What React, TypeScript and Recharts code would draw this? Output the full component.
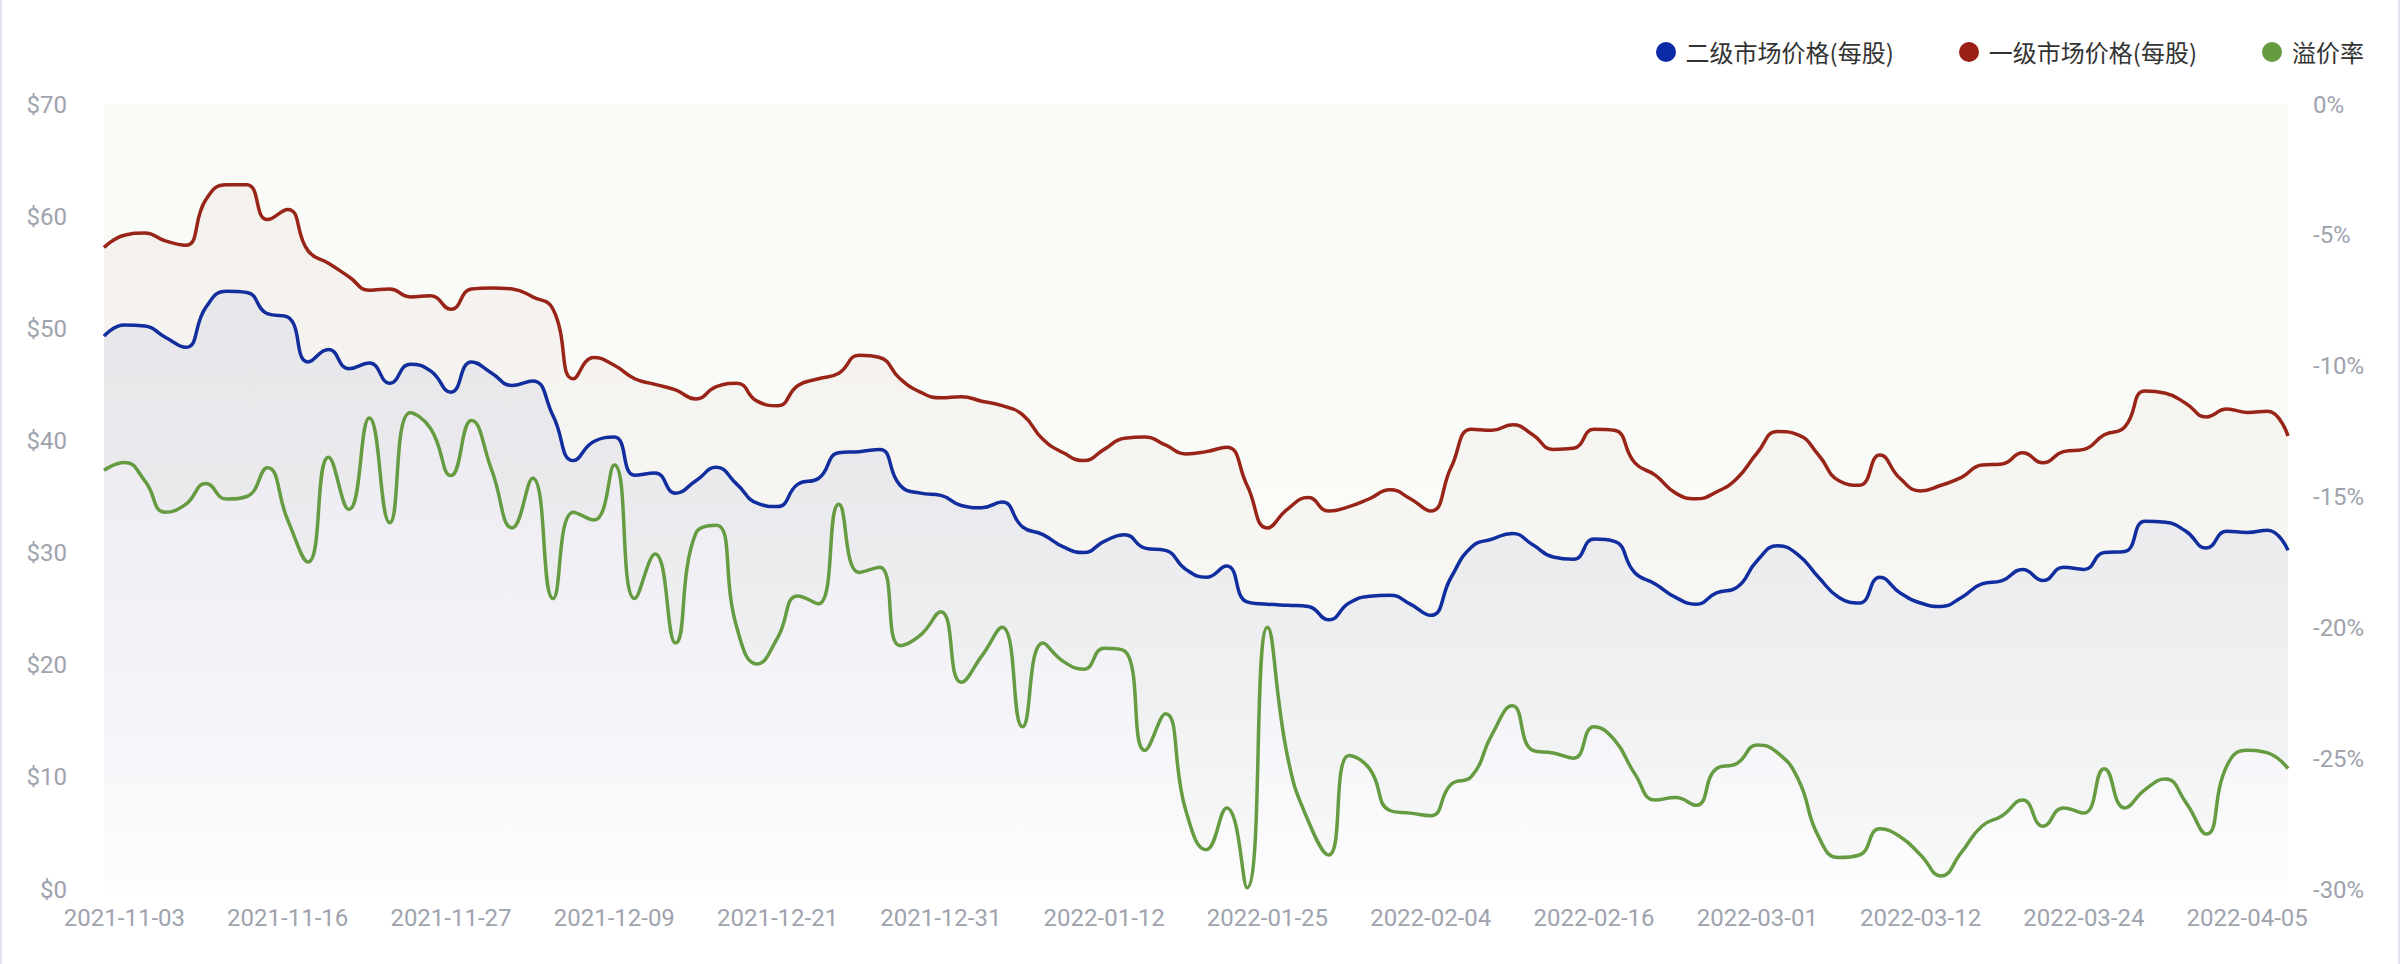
import { AreaChart, Area, XAxis, YAxis } from "recharts";

const dates = [
  "2021-11-02", "2021-11-03", "2021-11-04", "2021-11-05", "2021-11-08", "2021-11-09", "2021-11-10", "2021-11-12", "2021-11-15",
  "2021-11-16", "2021-11-17", "2021-11-18", "2021-11-19", "2021-11-20", "2021-11-22", "2021-11-23", "2021-11-24", "2021-11-27",
  "2021-11-29", "2021-11-30", "2021-12-01", "2021-12-02", "2021-12-03", "2021-12-06", "2021-12-07", "2021-12-09", "2021-12-10",
  "2021-12-11", "2021-12-13", "2021-12-14", "2021-12-15", "2021-12-17", "2021-12-20", "2021-12-21", "2021-12-22", "2021-12-23",
  "2021-12-24", "2021-12-25", "2021-12-27", "2021-12-28", "2021-12-29", "2021-12-31", "2022-01-01", "2022-01-03", "2022-01-04",
  "2022-01-05", "2022-01-06", "2022-01-07", "2022-01-10", "2022-01-12", "2022-01-13", "2022-01-14", "2022-01-17", "2022-01-18",
  "2022-01-19", "2022-01-20", "2022-01-21", "2022-01-25", "2022-01-26", "2022-01-27", "2022-01-28", "2022-01-29", "2022-01-31",
  "2022-02-01", "2022-02-02", "2022-02-04", "2022-02-05", "2022-02-07", "2022-02-08", "2022-02-09", "2022-02-10", "2022-02-11",
  "2022-02-14", "2022-02-16", "2022-02-17", "2022-02-18", "2022-02-21", "2022-02-22", "2022-02-23", "2022-02-24", "2022-02-25",
  "2022-03-01", "2022-03-02", "2022-03-03", "2022-03-04", "2022-03-07", "2022-03-08", "2022-03-09", "2022-03-10", "2022-03-12",
  "2022-03-14", "2022-03-15", "2022-03-16", "2022-03-17", "2022-03-18", "2022-03-21", "2022-03-22", "2022-03-24", "2022-03-25",
  "2022-03-28", "2022-03-29", "2022-03-30", "2022-03-31", "2022-04-01", "2022-04-04", "2022-04-05", "2022-04-06", "2022-04-07",
];

// 二级市场价格(每股), USD
const secondaryPrice = [
  49.3, 50.3, 50.2, 49.2, 48.3, 51.9, 53.3, 53.2, 51.3,
  51.0, 47.0, 48.1, 46.4, 46.9, 45.1, 46.8, 46.2, 44.3,
  47.0, 46.0, 44.9, 45.3, 42.2, 38.2, 39.9, 40.3, 36.9,
  37.1, 35.3, 36.4, 37.6, 36.1, 34.4, 34.1, 36.1, 36.6,
  38.9, 39.0, 39.2, 36.0, 35.3, 35.1, 34.2, 34.0, 34.5,
  32.3, 31.6, 30.5, 30.0, 31.0, 31.6, 30.4, 30.2, 28.5,
  27.8, 28.8, 25.6, 25.4, 25.3, 25.2, 24.0, 25.5, 26.1,
  26.2, 25.4, 24.4, 27.8, 30.5, 31.2, 31.7, 30.7, 29.6,
  29.4, 31.2, 31.0, 28.2, 27.2, 26.0, 25.4, 26.4, 26.9,
  29.3, 30.6, 29.8, 27.8, 26.0, 25.5, 27.8, 26.4, 25.5,
  25.2, 26.0, 27.2, 27.5, 28.5, 27.5, 28.7, 28.5, 30.0,
  30.1, 32.8, 32.7, 31.9, 30.4, 31.9, 31.8, 32.0, 30.2,
];

// 一级市场价格(每股), USD
const primaryPrice = [
  57.2, 58.3, 58.5, 57.8, 57.4, 61.5, 62.8, 62.8, 59.7,
  60.6, 56.9, 55.8, 54.6, 53.4, 53.5, 52.8, 52.9, 51.7,
  53.5, 53.6, 53.5, 52.8, 51.7, 45.5, 47.4, 46.7, 45.5,
  45.0, 44.5, 43.7, 44.8, 45.1, 43.5, 43.1, 44.9, 45.5,
  46.0, 47.6, 47.4, 45.5, 44.3, 43.8, 43.9, 43.5, 43.1,
  42.3, 40.1, 38.9, 38.2, 39.2, 40.2, 40.3, 39.6, 38.8,
  39.0, 39.4, 36.0, 32.2, 33.9, 34.9, 33.7, 34.1, 34.8,
  35.6, 34.8, 33.7, 37.6, 41.0, 40.9, 41.4, 40.5, 39.2,
  39.3, 41.0, 40.9, 38.0, 36.9, 35.3, 34.8, 35.4, 36.6,
  38.9, 40.8, 40.5, 38.7, 36.4, 36.0, 38.7, 36.6, 35.5,
  36.0, 36.7, 37.8, 37.9, 38.9, 38.0, 39.0, 39.2, 40.5,
  41.2, 44.4, 44.2, 43.3, 42.1, 42.8, 42.5, 42.6, 40.4,
];

// 溢价率, %
const premiumRate = [
  -14.0, -13.7, -14.4, -15.6, -15.3, -14.5, -15.1, -15.0, -13.9,
  -15.9, -17.5, -13.5, -15.5, -12.0, -16.0, -11.8, -12.4, -14.2,
  -12.1, -14.0, -16.2, -14.3, -18.9, -15.6, -15.9, -13.8, -18.9,
  -17.2, -20.6, -16.4, -16.1, -20.0, -21.4, -20.4, -18.8, -19.1,
  -15.3, -17.9, -17.7, -20.7, -20.3, -19.4, -22.1, -21.1, -20.0,
  -23.8, -20.6, -21.3, -21.6, -20.8, -20.9, -24.7, -23.3, -27.0,
  -28.5, -26.9, -29.95, -20.0, -25.0, -27.4, -28.7, -24.9, -25.4,
  -27.0, -27.1, -27.2, -26.0, -25.7, -24.1, -23.0, -24.7, -24.8,
  -25.0, -23.8, -24.3, -25.6, -26.6, -26.5, -26.8, -25.4, -25.2,
  -24.5, -24.8, -25.8, -28.0, -28.8, -28.7, -27.7, -28.0, -28.7,
  -29.5, -28.6, -27.6, -27.2, -26.6, -27.6, -26.9, -27.1, -25.4,
  -26.9, -26.2, -25.8, -26.7, -27.9, -25.3, -24.7, -24.8, -25.4,
];

const xTicks = [
  "2021-11-03", "2021-11-16", "2021-11-27", "2021-12-09", "2021-12-21", "2021-12-31", "2022-01-12",
  "2022-01-25", "2022-02-04", "2022-02-16", "2022-03-01", "2022-03-12", "2022-03-24", "2022-04-05",
];
const priceTicks = [0, 10, 20, 30, 40, 50, 60, 70];
const rateTicks = [-30, -25, -20, -15, -10, -5, 0];

const series = [
  { key: "secondary", name: "二级市场价格(每股)", color: "#0a2aa6" },
  { key: "primary", name: "一级市场价格(每股)", color: "#9a2016" },
  { key: "premium", name: "溢价率", color: "#659b41" },
];

const data = dates.map((date, i) => ({
  date,
  secondary: secondaryPrice[i],
  primary: primaryPrice[i],
  premium: premiumRate[i],
}));

const WIDTH = 2400;
const HEIGHT = 964;
const PLOT_TOP = 104;
const PLOT_BOTTOM = 889;

const tickStyle = { fill: "#9ea3ae", fontSize: 24, fontFamily: "Roboto, 'Noto Sans CJK SC', sans-serif" };

// smooth bezier like the original chart lib: control points clamped so the curve never overshoots
function smoothCurve(context: any) {
  const SMOOTH = 0.5;
  let xs: number[] = [];
  let ys: number[] = [];
  let line = NaN;

  const draw = () => {
    const n = xs.length;
    if (!n) return;
    if (line) context.lineTo(xs[0], ys[0]);
    else context.moveTo(xs[0], ys[0]);

    let cpx0 = xs[0];
    let cpy0 = ys[0];
    for (let k = 1; k < n; k++) {
      const x = xs[k], y = ys[k];
      const prevX = xs[k - 1], prevY = ys[k - 1];
      let cpx1 = x, cpy1 = y;
      let nextCpx0 = x, nextCpy0 = y;
      if (k < n - 1) {
        const nextX = xs[k + 1], nextY = ys[k + 1];
        let vx = nextX - prevX;
        let vy = nextY - prevY;
        const lenPrev = Math.hypot(x - prevX, y - prevY) || 1e-6;
        const lenNext = Math.hypot(nextX - x, nextY - y) || 1e-6;
        const ratio = lenNext / (lenNext + lenPrev);
        nextCpx0 = x + vx * SMOOTH * ratio;
        nextCpy0 = y + vy * SMOOTH * ratio;
        nextCpx0 = Math.max(Math.min(nextCpx0, Math.max(nextX, x)), Math.min(nextX, x));
        nextCpy0 = Math.max(Math.min(nextCpy0, Math.max(nextY, y)), Math.min(nextY, y));
        vx = nextCpx0 - x;
        vy = nextCpy0 - y;
        cpx1 = x - (vx * lenPrev) / lenNext;
        cpy1 = y - (vy * lenPrev) / lenNext;
        cpx1 = Math.max(Math.min(cpx1, Math.max(prevX, x)), Math.min(prevX, x));
        cpy1 = Math.max(Math.min(cpy1, Math.max(prevY, y)), Math.min(prevY, y));
        vx = x - cpx1;
        vy = y - cpy1;
        nextCpx0 = x + (vx * lenNext) / lenPrev;
        nextCpy0 = y + (vy * lenNext) / lenPrev;
      }
      context.bezierCurveTo(cpx0, cpy0, cpx1, cpy1, x, y);
      cpx0 = nextCpx0;
      cpy0 = nextCpy0;
    }
  };

  return {
    areaStart() { line = 0; },
    areaEnd() { line = NaN; },
    lineStart() { xs = []; ys = []; },
    lineEnd() {
      draw();
      if (line || (line !== 0 && xs.length === 1)) context.closePath();
      line = 1 - line;
    },
    point(x: number, y: number) { xs.push(+x); ys.push(+y); },
  };
}

export default function App() {
  return (
    <div
      style={{
        position: "relative",
        width: WIDTH,
        height: HEIGHT,
        background: "#fff",
        boxShadow: "inset 2px 0 0 #e3e3ee, inset -2px 0 0 #e3e3ee",
        fontFamily: "'Noto Sans CJK SC', sans-serif",
      }}
    >
      <style>{"body{margin:0}"}</style>

      <div
        style={{
          position: "absolute",
          top: 32,
          right: 36,
          height: 40,
          display: "flex",
          alignItems: "center",
          gap: 65,
          zIndex: 1,
        }}
      >
        {series.map((s) => (
          <div key={s.key} style={{ display: "flex", alignItems: "center" }}>
            <div style={{ width: 20, height: 20, borderRadius: "50%", background: s.color, marginRight: 10 }} />
            <span style={{ fontSize: 24, color: "#333", lineHeight: "40px" }}>{s.name}</span>
          </div>
        ))}
      </div>

      <AreaChart
        width={WIDTH}
        height={HEIGHT}
        data={data}
        margin={{ top: PLOT_TOP, right: 0, bottom: 0, left: 0 }}
      >
        <defs>
          <linearGradient id="fillSecondary" gradientUnits="userSpaceOnUse" x1="0" y1={PLOT_TOP} x2="0" y2={PLOT_BOTTOM}>
            <stop offset="0" stopColor="#0a2aa6" stopOpacity={0.12} />
            <stop offset="0.5" stopColor="#0a2aa6" stopOpacity={0.09} />
            <stop offset="0.8" stopColor="#0a2aa6" stopOpacity={0.055} />
            <stop offset="1" stopColor="#0a2aa6" stopOpacity={0.01} />
          </linearGradient>
          <linearGradient id="fillPrimary" gradientUnits="userSpaceOnUse" x1="0" y1={PLOT_TOP} x2="0" y2={PLOT_BOTTOM}>
            <stop offset="0" stopColor="#9a2016" stopOpacity={0.08} />
            <stop offset="0.5" stopColor="#9a2016" stopOpacity={0.05} />
            <stop offset="0.85" stopColor="#9a2016" stopOpacity={0.02} />
            <stop offset="1" stopColor="#9a2016" stopOpacity={0.005} />
          </linearGradient>
          <linearGradient id="fillPremium" gradientUnits="userSpaceOnUse" x1="0" y1={PLOT_TOP} x2="0" y2={PLOT_BOTTOM}>
            <stop offset="0" stopColor="#659b41" stopOpacity={0.07} />
            <stop offset="1" stopColor="#659b41" stopOpacity={0.05} />
          </linearGradient>
        </defs>

        <XAxis
          dataKey="date"
          scale="point"
          ticks={xTicks}
          interval={0}
          height={HEIGHT - PLOT_BOTTOM}
          axisLine={false}
          tickLine={false}
          tickMargin={14}
          tick={tickStyle}
        />
        <YAxis
          yAxisId="price"
          width={104}
          domain={[0, 70]}
          ticks={priceTicks}
          tickFormatter={(v) => `$${v}`}
          axisLine={false}
          tickLine={false}
          tickMargin={31}
          tick={tickStyle}
        />
        <YAxis
          yAxisId="rate"
          orientation="right"
          width={112}
          domain={[-30, 0]}
          ticks={rateTicks}
          tickFormatter={(v) => `${v}%`}
          axisLine={false}
          tickLine={false}
          tickMargin={19}
          tick={tickStyle}
        />

        <Area
          yAxisId="price"
          type={smoothCurve as any}
          dataKey="secondary"
          stroke="#0a2aa6"
          strokeWidth={3.5}
          fill="url(#fillSecondary)"
          dot={false}
          activeDot={false}
          isAnimationActive={false}
        />
        <Area
          yAxisId="price"
          type={smoothCurve as any}
          dataKey="primary"
          stroke="#9a2016"
          strokeWidth={3.5}
          fill="url(#fillPrimary)"
          dot={false}
          activeDot={false}
          isAnimationActive={false}
        />
        <Area
          yAxisId="rate"
          type={smoothCurve as any}
          dataKey="premium"
          baseValue={0}
          stroke="#659b41"
          strokeWidth={3.5}
          fill="url(#fillPremium)"
          dot={false}
          activeDot={false}
          isAnimationActive={false}
        />
      </AreaChart>
    </div>
  );
}
